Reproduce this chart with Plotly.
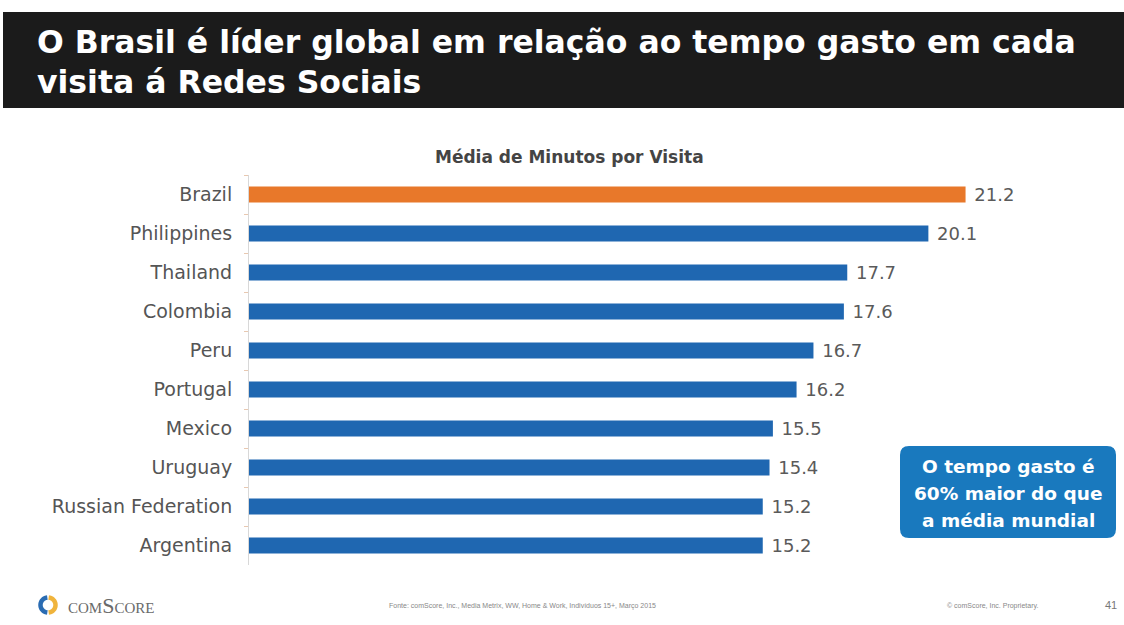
import plotly.graph_objects as go

countries = ["Brazil", "Philippines", "Thailand", "Colombia", "Peru", "Portugal",
             "Mexico", "Uruguay", "Russian Federation", "Argentina"]
minutes = [21.2, 20.1, 17.7, 17.6, 16.7, 16.2, 15.5, 15.4, 15.2, 15.2]
highlight = "Brazil"

title_lines = ["O Brasil é líder global em relação ao tempo gasto em cada",
               "visita á Redes Sociais"]
chart_title = "Média de Minutos por Visita"
callout_lines = ["O tempo gasto é", "60% maior do que", "a média mundial"]
source_text = "Fonte: comScore, Inc., Media Metrix, WW, Home & Work, Indivíduos 15+, Março 2015"

W, H = 1124, 625
L, R, T, B = 249, 30, 175, 60
PW, PH = W - L - R, H - T - B

SANS = "DejaVu Sans, Verdana, sans-serif"

def px(x):
    return (x - L) / PW

def py(y):
    return (H - B - y) / PH

ORANGE = "#E8782A"
BLUE = "#1F67B1"
colors = [ORANGE if c == highlight else BLUE for c in countries]

fig = go.Figure(go.Bar(
    x=minutes, y=countries, orientation="h",
    marker=dict(color=colors, line=dict(width=0)),
    text=[f"{v:.1f}" for v in minutes],
    texttemplate=" %{text}",
    textposition="outside",
    constraintext="none",
    textfont=dict(family=SANS, size=18, color="#5a5a5a"),
    cliponaxis=False,
    width=0.41,
))

def rounded_rect(x0, y0, x1, y1, r):
    pts = [
        f"M {px(x0 + r)},{py(y0)}",
        f"L {px(x1 - r)},{py(y0)}",
        f"Q {px(x1)},{py(y0)} {px(x1)},{py(y0 + r)}",
        f"L {px(x1)},{py(y1 - r)}",
        f"Q {px(x1)},{py(y1)} {px(x1 - r)},{py(y1)}",
        f"L {px(x0 + r)},{py(y1)}",
        f"Q {px(x0)},{py(y1)} {px(x0)},{py(y1 - r)}",
        f"L {px(x0)},{py(y0 + r)}",
        f"Q {px(x0)},{py(y0)} {px(x0 + r)},{py(y0)}",
        "Z",
    ]
    return " ".join(pts)

def arc_path(cx, cy, rx, ry, a0, a1, n=24):
    import math
    pts = []
    for i in range(n + 1):
        a = math.radians(a0 + (a1 - a0) * i / n)
        pts.append((cx + rx * math.cos(a), cy - ry * math.sin(a)))
    return f"M {px(pts[0][0])},{py(pts[0][1])} " + " ".join(f"L {px(x)},{py(y)}" for x, y in pts[1:])

shapes = [
    dict(type="rect", xref="paper", yref="paper",
         x0=px(3), x1=px(1124), y0=py(12), y1=py(108),
         fillcolor="#1b1b1b", line=dict(width=0), layer="below"),
    dict(type="path", xref="paper", yref="paper",
         path=rounded_rect(900, 446, 1116, 538, 9),
         fillcolor="#1979BE", line=dict(width=0)),
    dict(type="path", xref="paper", yref="paper",
         path=arc_path(48, 605, 7.5, 7.5, 95, 265),
         line=dict(color="#2A6CB3", width=4.5)),
    dict(type="path", xref="paper", yref="paper",
         path=arc_path(48, 605, 7.5, 7.5, -85, 85),
         line=dict(color="#F0B43C", width=4.5)),
]

annotations = []
for i, line in enumerate(title_lines):
    annotations.append(dict(
        text=f"<b>{line}</b>", xref="paper", yref="paper",
        x=px(35), y=py(42 + 40 * i), xanchor="left", yanchor="middle", align="left",
        showarrow=False,
        font=dict(family=SANS, size=31.5, color="white")))

annotations.append(dict(
    text=f"<b>{chart_title}</b>", xref="paper", yref="paper",
    x=px(569), y=py(157), xanchor="center", yanchor="middle",
    showarrow=False,
    font=dict(family=SANS, size=17, color="#444444")))

for i, line in enumerate(callout_lines):
    annotations.append(dict(
        text=f"<b>{line}</b>", xref="paper", yref="paper",
        x=px(1008), y=py(466 + 27 * i), xanchor="center", yanchor="middle",
        showarrow=False,
        font=dict(family=SANS, size=18.5, color="white")))

annotations += [
    dict(text="comScore", xref="paper", yref="paper",
         x=px(66), y=py(605), xanchor="left", yanchor="middle",
         showarrow=False,
         font=dict(family="Liberation Serif, serif", size=22, color="#6a6a6a",
                   variant="small-caps")),
    dict(text=source_text, xref="paper", yref="paper",
         x=px(522), y=py(606), xanchor="center", yanchor="middle",
         showarrow=False,
         font=dict(family="Liberation Sans, Arial, sans-serif", size=7, color="#888888")),
    dict(text="© comScore, Inc. Proprietary.", xref="paper", yref="paper",
         x=px(992), y=py(606), xanchor="center", yanchor="middle",
         showarrow=False,
         font=dict(family="Liberation Sans, Arial, sans-serif", size=7, color="#888888")),
    dict(text="41", xref="paper", yref="paper",
         x=px(1111), y=py(605), xanchor="center", yanchor="middle",
         showarrow=False,
         font=dict(family="Liberation Sans, Arial, sans-serif", size=11, color="#777777")),
]

fig.update_layout(
    width=W, height=H,
    margin=dict(l=L, r=R, t=T, b=B),
    paper_bgcolor="white", plot_bgcolor="white",
    showlegend=False,
    shapes=shapes,
    annotations=annotations,
    xaxis=dict(range=[0, 25], visible=False, fixedrange=True),
    yaxis=dict(
        categoryorder="array", categoryarray=countries, autorange="reversed",
        showline=True, linecolor="#d8d8d8", linewidth=1,
        ticks="outside", ticklen=4, tickcolor="#e8c8b0", tickson="boundaries",
        ticklabelstandoff=12,
        tickfont=dict(family=SANS, size=19, color="#555555"),
        showgrid=False, zeroline=False,
    ),
)

fig.write_html("out.html")
